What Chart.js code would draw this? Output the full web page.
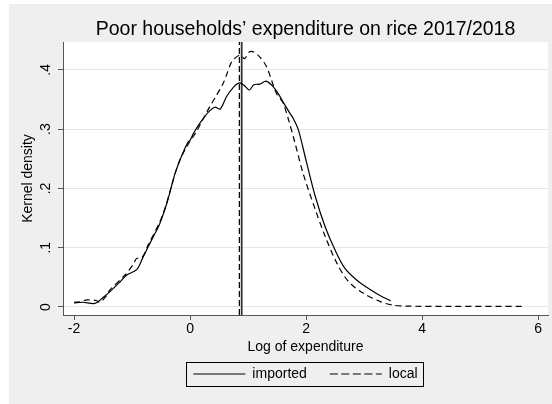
<!DOCTYPE html>
<html>
<head>
<meta charset="utf-8">
<script src="https://cdn.jsdelivr.net/npm/chart.js@4.4.1/dist/chart.umd.min.js"></script>
<style>
    html, body { margin: 0; padding: 0; background: #fff; }
</style>
</head>
<body>
<canvas id="density-chart" width="552" height="404"></canvas>
<script>
// Kernel density estimates
var importedX = [-2.0, -1.85, -1.64, -1.5, -1.38, -1.22, -1.09, -0.92, -0.82, -0.72, -0.62, -0.52, -0.4, -0.33,
    -0.26, -0.14, -0.03, 0.0, 0.06, 0.17, 0.32, 0.43, 0.52, 0.63, 0.75, 0.85, 0.93, 1.02, 1.1, 1.2, 1.31, 1.42,
    1.52, 1.62, 1.72, 1.78, 1.87, 2.0, 2.16, 2.33, 2.5, 2.67, 2.87, 3.07, 3.28, 3.46];
var importedY = [0.007, 0.008, 0.006, 0.016, 0.026, 0.041, 0.054, 0.063, 0.082, 0.102, 0.121, 0.141, 0.175, 0.2,
    0.225, 0.256, 0.279, 0.281, 0.293, 0.31, 0.329, 0.337, 0.334, 0.355, 0.371, 0.378, 0.374, 0.366, 0.375, 0.376,
    0.381, 0.373, 0.36, 0.343, 0.327, 0.318, 0.298, 0.247, 0.186, 0.135, 0.096, 0.065, 0.0455, 0.0315, 0.019, 0.0106];

var localX = [-2.0, -1.88, -1.78, -1.62, -1.55, -1.45, -1.38, -1.12, -0.98, -0.92, -0.83, -0.72, -0.52, -0.42, -0.34,
    -0.2, -0.06, 0.11, 0.23, 0.34, 0.45, 0.57, 0.65, 0.72, 0.86, 0.94, 1.02, 1.1, 1.2, 1.32, 1.49, 1.6, 1.7, 1.8,
    1.95, 2.16, 2.33, 2.53, 2.73, 2.99, 3.28, 3.5, 3.74, 4.5, 5.78];
var localY = [0.008, 0.009, 0.012, 0.011, 0.008, 0.018, 0.029, 0.054, 0.072, 0.082, 0.083, 0.105, 0.144, 0.17, 0.197,
    0.242, 0.27, 0.296, 0.318, 0.338, 0.356, 0.377, 0.397, 0.414, 0.425, 0.419, 0.43, 0.43, 0.422, 0.405, 0.36,
    0.345, 0.315, 0.28, 0.225, 0.164, 0.119, 0.074, 0.043, 0.023, 0.009, 0.003, 0.0015, 0.001, 0.001];

// Mean log expenditure (vertical reference lines)
var importedMean = 0.89;
var localMean = 0.85;

var seriesLabels = ['imported', 'local'];
var xTicks = [-2, 0, 2, 4, 6];
var yTicks = [0, 0.1, 0.2, 0.3, 0.4];
var xRange = [-2.19, 6.17];
var yRange = [-0.0135, 0.447];

var FONT = '"Liberation Sans", Arial, sans-serif';

function toPoints(xs, ys) {
    return xs.map(function (x, i) {
        return {x: x, y: ys[i]};
    });
}

function verticalLine(x) {
    return [{x: x, y: yRange[0]}, {x: x, y: yRange[1]}];
}

/**
 * Paints the Stata style background: light grey graph region, white plot region.
 */
var background = {
    id: 'background',
    beforeDraw: function (chart) {
        var ctx = chart.ctx;
        var area = chart.chartArea;
        ctx.save();
        ctx.fillStyle = '#fff';
        ctx.fillRect(0, 0, chart.width, chart.height);
        ctx.fillStyle = '#efefef';
        ctx.fillRect(9, 4, chart.width - 9, chart.height - 4);
        ctx.fillStyle = '#fff';
        ctx.fillRect(area.left, area.top, area.right - area.left, area.bottom - area.top);
        ctx.restore();
    }
};

/**
 * Draws the frame around the legend items.
 */
var legendFrame = {
    id: 'legendFrame',
    afterDraw: function (chart) {
        var boxes = chart.legend.legendHitBoxes;
        if (!boxes || !boxes.length) {
            return;
        }
        var left = Math.min.apply(null, boxes.map(function (b) { return b.left; })) - 7;
        var right = Math.max.apply(null, boxes.map(function (b) { return b.left + b.width; })) + 6;
        var top = boxes[0].top - 5;
        var bottom = boxes[0].top + boxes[0].height + 5;
        var ctx = chart.ctx;
        ctx.save();
        ctx.strokeStyle = '#000';
        ctx.lineWidth = 1;
        ctx.strokeRect(Math.round(left) + 0.5, Math.round(top) + 0.5, Math.round(right - left), Math.round(bottom - top));
        ctx.restore();
    }
};

var densityChart = new Chart(document.getElementById('density-chart'), {
    type: 'line',
    data: {
        datasets: [{
            label: seriesLabels[0],
            data: toPoints(importedX, importedY),
            borderColor: '#000',
            backgroundColor: '#000',
            borderWidth: 1.2,
            pointRadius: 0,
            tension: 0.3
        }, {
            label: seriesLabels[1],
            data: toPoints(localX, localY),
            borderColor: '#000',
            backgroundColor: '#000',
            borderWidth: 1.2,
            borderDash: [6, 4],
            pointRadius: 0,
            tension: 0.3
        }, {
            label: 'imported mean',
            data: verticalLine(importedMean),
            borderColor: '#333',
            borderWidth: 1.8,
            pointRadius: 0
        }, {
            label: 'local mean',
            data: verticalLine(localMean),
            borderColor: '#000',
            borderWidth: 1.2,
            borderDash: [6, 3],
            pointRadius: 0
        }]
    },
    options: {
        responsive: false,
        animation: false,
        devicePixelRatio: 1,
        layout: {
            padding: {left: 9, right: 4, top: 4, bottom: 13}
        },
        plugins: {
            title: {
                display: true,
                fullSize: false,
                text: 'Poor households\u2019 expenditure on rice 2017/2018',
                color: '#000',
                font: {family: FONT, size: 19.5, weight: 'normal'},
                padding: {top: 14.3, bottom: 0.3}
            },
            legend: {
                position: 'bottom',
                fullSize: false,
                labels: {
                    color: '#000',
                    font: {family: FONT, size: 14},
                    usePointStyle: true,
                    pointStyle: 'line',
                    pointStyleWidth: 52,
                    padding: 23,
                    filter: function (item) {
                        return item.datasetIndex < 2;
                    },
                    // the point style legend takes its look from the points, so copy the line style over
                    generateLabels: function (chart) {
                        var items = Chart.defaults.plugins.legend.labels.generateLabels(chart);
                        items.forEach(function (item) {
                            var ds = chart.data.datasets[item.datasetIndex];
                            item.lineDash = ds.borderDash ? [8, 3.5] : [];
                            item.lineWidth = 1.2;
                            item.strokeStyle = '#000';
                        });
                        return items;
                    }
                }
            },
            tooltip: {enabled: false}
        },
        scales: {
            x: {
                type: 'linear',
                min: xRange[0],
                max: xRange[1],
                afterBuildTicks: function (scale) {
                    scale.ticks = xTicks.map(function (v) { return {value: v}; });
                },
                afterFit: function (scale) {
                    scale.height = 29;
                },
                border: {color: '#555', width: 1},
                grid: {drawOnChartArea: false, color: '#555', tickLength: 5},
                ticks: {
                    color: '#000',
                    font: {family: FONT, size: 14},
                    padding: 1,
                    maxRotation: 0,
                    callback: function (v) { return String(v); }
                },
                title: {
                    display: true,
                    text: 'Log of expenditure',
                    color: '#000',
                    font: {family: FONT, size: 14},
                    padding: {top: 0, bottom: -11.4}
                }
            },
            y: {
                type: 'linear',
                min: yRange[0],
                max: yRange[1],
                afterBuildTicks: function (scale) {
                    scale.ticks = yTicks.map(function (v) { return {value: v}; });
                },
                afterFit: function (scale) {
                    scale.width = 54;
                },
                border: {color: '#555', width: 1},
                grid: {color: '#e6e6e6', tickColor: '#555', tickLength: 5},
                ticks: {
                    color: '#000',
                    font: {family: FONT, size: 14},
                    minRotation: 90,
                    maxRotation: 90,
                    crossAlign: 'center',
                    padding: 6,
                    callback: function (v) {
                        return v === 0 ? '0' : String(v).replace(/^0/, '');
                    }
                },
                title: {
                    display: true,
                    text: 'Kernel density',
                    color: '#000',
                    font: {family: FONT, size: 14},
                    padding: {top: 10.6, bottom: 0}
                }
            }
        }
    },
    plugins: [background, legendFrame]
});
</script>
</body>
</html>
